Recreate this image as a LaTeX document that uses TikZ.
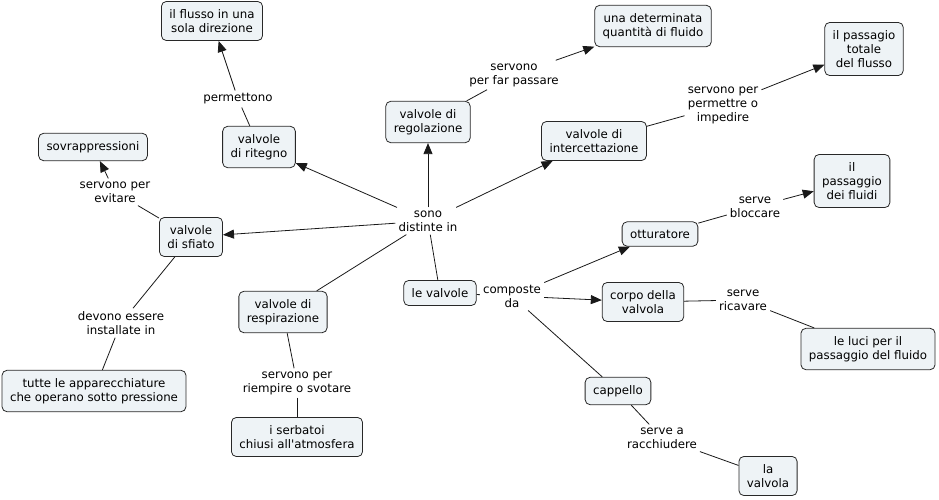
\documentclass[tikz,border=0pt]{standalone}
\usepackage{fontspec}
\setmainfont{DejaVu Sans}[Ligatures=TeXOff]
\usetikzlibrary{arrows.meta}
\definecolor{boxfill}{RGB}{238,243,246}
\definecolor{boxline}{RGB}{40,40,40}
\tikzset{
  concept/.style={draw=boxline, fill=boxfill, rounded corners=5pt, align=center,
    inner xsep=8pt, inner ysep=8pt, line width=0.8pt, font=\fontsize{11.8}{14}\selectfont},
  lnk/.style={align=center, inner sep=3pt, font=\fontsize{11.8}{14}\selectfont},
  conn/.style={line width=0.8pt, draw=black!90},
  arr/.style={conn, -{Triangle[length=11pt,width=9pt]}}
}
\begin{document}
\begin{tikzpicture}[x=1pt,y=-1pt]
\useasboundingbox (0,0) rectangle (939,499);
% concepts
\node[concept] (flusso) at (212,21) {il flusso in una\\sola direzione};
\node[concept] (quant) at (653,26) {una determinata\\quantità di fluido};
\node[concept] (tot) at (864,49) {il passagio\\totale\\del flusso};
\node[concept] (reg) at (428,122) {valvole di\\regolazione};
\node[concept] (rit) at (259,147) {valvole\\di ritegno};
\node[concept] (sovr) at (93,147) {sovrappressioni};
\node[concept] (int) at (594,141) {valvole di\\intercettazione};
\node[concept] (pass) at (852,181) {il\\passaggio\\dei fluidi};
\node[concept] (ott) at (660,234) {otturatore};
\node[concept] (sfi) at (191,237) {valvole\\di sfiato};
\node[concept] (valv) at (440,293) {le valvole};
\node[concept] (corpo) at (643,302) {corpo della\\valvola};
\node[concept] (resp) at (283,312) {valvole di\\respirazione};
\node[concept] (luci) at (868,349) {le luci per il\\passaggio del fluido};
\node[concept] (tutte) at (94,391) {tutte le apparecchiature\\che operano sotto pressione};
\node[concept] (capp) at (618,391) {cappello};
\node[concept] (serb) at (297,437) {i serbatoi\\chiusi all'atmosfera};
\node[concept] (lav) at (768,476) {la\\valvola};
% link labels
\node[lnk] (lperm) at (238,99) {permettono};
\node[lnk] (levit) at (115,192) {servono per\\evitare};
\node[lnk] (lsono) at (428,221) {sono\\distinte in};
\node[lnk] (lfar) at (514,75) {servono\\per far passare};
\node[lnk] (limp) at (723,105) {servono per\\permettre o\\impedire};
\node[lnk] (lblo) at (755,207) {serve\\bloccare};
\node[lnk] (lcomp) at (512,296) {composte\\da};
\node[lnk] (lric) at (743,300) {serve\\ricavare};
\node[lnk] (lracc) at (662,438) {serve a\\racchiudere};
\node[lnk] (linst) at (121,323) {devono essere\\installate in};
\node[lnk] (lriem) at (297,383) {servono per\\riempire o svotare};
% connectors
\draw[conn] (rit) -- (lperm);
\draw[arr] (lperm) -- (flusso);
\draw[conn] (valv) -- (lsono);
\draw[arr] (lsono) -- (rit);
\draw[arr] (lsono) -- (reg);
\draw[arr] (lsono) -- (int);
\draw[arr] (lsono) -- (sfi);
\draw[conn] (lsono) -- (resp);
\draw[conn] (valv) -- (lcomp);
\draw[arr] (lcomp) -- (ott);
\draw[arr] (lcomp) -- (corpo);
\draw[conn] (lcomp) -- (capp);
\draw[conn] (reg) -- (lfar);
\draw[arr] (lfar) -- (quant);
\draw[conn] (int) -- (limp);
\draw[arr] (limp) -- (tot);
\draw[conn] (ott) -- (lblo);
\draw[arr] (lblo) -- (pass);
\draw[conn] (corpo) -- (lric);
\draw[conn] (lric) -- (luci);
\draw[conn] (capp) -- (lracc);
\draw[conn] (lracc) -- (lav);
\draw[conn] (sfi) -- (levit);
\draw[arr] (levit) -- (sovr);
\draw[conn] (sfi) -- (linst);
\draw[conn] (linst) -- (tutte);
\draw[conn] (resp) -- (lriem);
\draw[conn] (lriem) -- (serb);
\end{tikzpicture}
\end{document}
